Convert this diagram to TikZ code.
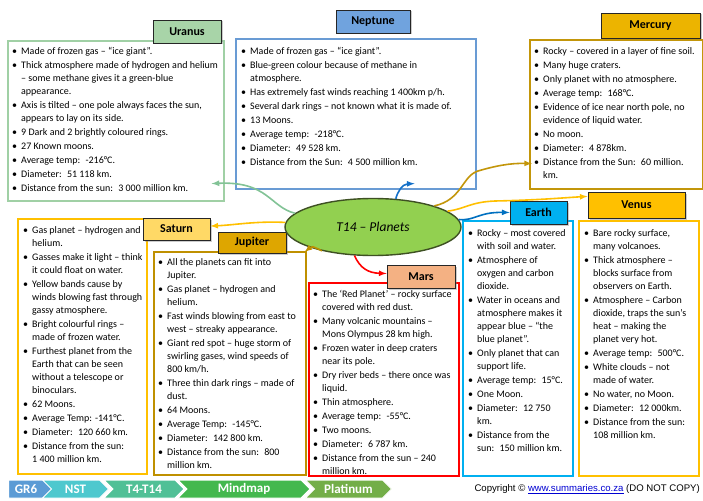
\documentclass[tikz,border=0pt]{standalone}
\usepackage{fontspec}
\setmainfont{Carlito}
\newfontfamily\copyfont{Liberation Sans}
\usetikzlibrary{shapes.geometric,shapes.symbols,shadows}

\definecolor{uranusline}{RGB}{160,208,165}
\definecolor{uranusfill}{RGB}{168,212,168}
\definecolor{uranuslink}{RGB}{130,195,150}
\definecolor{neptuneline}{RGB}{105,155,212}
\definecolor{neptunefill}{RGB}{112,163,222}
\definecolor{neptunelink}{RGB}{20,112,200}
\definecolor{mercuryline}{RGB}{195,150,10}
\definecolor{mercuryfill}{RGB}{236,180,0}
\definecolor{saturnline}{RGB}{255,192,0}
\definecolor{saturnfill}{RGB}{255,217,102}
\definecolor{jupiterline}{RGB}{191,144,0}
\definecolor{jupiterfill}{RGB}{222,166,0}
\definecolor{marsline}{RGB}{255,0,0}
\definecolor{marsfill}{RGB}{244,177,131}
\definecolor{earthline}{RGB}{0,176,240}
\definecolor{earthlink}{RGB}{0,112,192}
\definecolor{venusline}{RGB}{255,192,0}
\definecolor{hubgreen}{RGB}{146,208,80}
\definecolor{hubborder}{RGB}{62,80,35}
\definecolor{crumbblue}{RGB}{91,155,213}
\definecolor{crumbcyan}{RGB}{78,200,206}
\definecolor{crumbteal}{RGB}{80,192,150}
\definecolor{crumbgreen}{RGB}{68,184,78}
\definecolor{crumbolive}{RGB}{115,174,72}
\definecolor{urlblue}{RGB}{0,0,210}

\newcommand{\fact}{\unskip\makebox[9pt][l]{\textbullet}}
\newcommand{\factmore}{\unskip\hspace*{9pt}}

\begin{document}
\begin{tikzpicture}[x=1pt, y=-1pt,
  planetbox/.style={draw, line width=1.6pt, anchor=north west, inner sep=0pt, fill=white},
  facttext/.style={anchor=north west, inner sep=0pt, align=left, font=\fontsize{10}{13}\selectfont},
  planettitle/.style={draw=black!85, line width=0.9pt, inner sep=0pt, font=\fontsize{12}{12}\selectfont\bfseries,
    drop shadow={shadow xshift=1.5pt, shadow yshift=-1.5pt, opacity=0.4}},
  linkarrow/.style={line width=1.6pt, ->, >=latex},
  crumb/.style={signal, signal to=east, signal from=west, minimum height=18pt, inner sep=0pt,
    draw=white, line width=1pt, text=white, font=\fontsize{13}{13}\selectfont\bfseries}]

  % Page
  \useasboundingbox[fill=white] (0,0) rectangle (703,500);

  % Boxes
  \node[planetbox, draw=uranusline, minimum width=216, minimum height=160] (uranusbox) at (7,40) {};
  \node[planetbox, draw=neptuneline, minimum width=240, minimum height=150] (neptunebox) at (235,38) {};
  \node[planetbox, draw=mercuryline, minimum width=173, minimum height=149] (mercurybox) at (529,39) {};
  \node[planetbox, draw=saturnline, minimum width=129, minimum height=255] (saturnbox) at (17,218) {};
  \node[planetbox, draw=jupiterline, minimum width=152, minimum height=223] (jupiterbox) at (153,251) {};
  \node[planetbox, draw=marsline, minimum width=150, minimum height=193] (marsbox) at (308,282) {};
  \node[planetbox, draw=earthline, minimum width=110, minimum height=255] (earthbox) at (462,220) {};
  \node[planetbox, draw=venusline, minimum width=120, minimum height=255] (venusbox) at (578,220) {};

  % Facts
  \node[facttext] (uranusfacts) at (12,47) {
    \fact Made of frozen gas – “ice giant”.\\[1pt]
    \fact Thick atmosphere made of hydrogen and helium\\
    \factmore – some methane gives it a green-blue\\
    \factmore appearance.\\[1pt]
    \fact Axis is tilted – one pole always faces the sun,\\
    \factmore appears to lay on its side.\\[1pt]
    \fact 9 Dark and 2 brightly coloured rings.\\[1pt]
    \fact 27 Known moons.\\[1pt]
    \fact Average temp:~ -216°C.\\[1pt]
    \fact Diameter:~ 51 118 km.\\[1pt]
    \fact Distance from the sun:~ 3 000 million km.};
  \node[facttext] (neptunefacts) at (241,47.5) {
    \fact Made of frozen gas – “ice giant”.\\[1pt]
    \fact Blue-green colour because of methane in\\
    \factmore atmosphere.\\[1pt]
    \fact Has extremely fast winds reaching 1 400km p/h.\\[1pt]
    \fact Several dark rings – not known what it is made of.\\[1pt]
    \fact 13 Moons.\\[1pt]
    \fact Average temp:~ -218°C.\\[1pt]
    \fact Diameter:~ 49 528 km.\\[1pt]
    \fact Distance from the Sun:~ 4 500 million km.};
  \node[facttext] (mercuryfacts) at (534,47.5) {
    \fact Rocky – covered in a layer of fine soil.\\[1pt]
    \fact Many huge craters.\\[1pt]
    \fact Only planet with no atmosphere.\\[1pt]
    \fact Average temp:~ 168°C.\\[1pt]
    \fact Evidence of ice near north pole, no\\
    \factmore evidence of liquid water.\\[1pt]
    \fact No moon.\\[1pt]
    \fact Diameter:~ 4 878km.\\[1pt]
    \fact Distance from the Sun:~ 60 million.\\
    \factmore km.};
  \node[facttext] (saturnfacts) at (23,226) {
    \fact Gas planet – hydrogen and\\
    \factmore helium.\\[1pt]
    \fact Gasses make it light – think\\
    \factmore it could float on water.\\[1pt]
    \fact Yellow bands cause by\\
    \factmore winds blowing fast through\\
    \factmore gassy atmosphere.\\[1pt]
    \fact Bright colourful rings –\\
    \factmore made of frozen water.\\[1pt]
    \fact Furthest planet from the\\
    \factmore Earth that can be seen\\
    \factmore without a telescope or\\
    \factmore binoculars.\\[1pt]
    \fact 62 Moons.\\[1pt]
    \fact Average Temp: -141°C.\\[1pt]
    \fact Diameter:~ 120 660 km.\\[1pt]
    \fact Distance from the sun:\\
    \factmore 1 400 million km.};
  \node[facttext] (jupiterfacts) at (158,258) {
    \fact All the planets can fit into\\
    \factmore Jupiter.\\[1pt]
    \fact Gas planet – hydrogen and\\
    \factmore helium.\\[1pt]
    \fact Fast winds blowing from east to\\
    \factmore west – streaky appearance.\\[1pt]
    \fact Giant red spot – huge storm of\\
    \factmore swirling gases, wind speeds of\\
    \factmore 800 km/h.\\[1pt]
    \fact Three thin dark rings – made of\\
    \factmore dust.\\[1pt]
    \fact 64 Moons.\\[1pt]
    \fact Average Temp:~ -145°C.\\[1pt]
    \fact Diameter:~ 142 800 km.\\[1pt]
    \fact Distance from the sun:~ 800\\
    \factmore million km.};
  \node[facttext] (marsfacts) at (313,290) {
    \fact The ‘Red Planet’ – rocky surface\\
    \factmore covered with red dust.\\[1pt]
    \fact Many volcanic mountains –\\
    \factmore Mons Olympus 28 km high.\\[1pt]
    \fact Frozen water in deep craters\\
    \factmore near its pole.\\[1pt]
    \fact Dry river beds – there once was\\
    \factmore liquid.\\[1pt]
    \fact Thin atmosphere.\\[1pt]
    \fact Average temp:~ -55°C.\\[1pt]
    \fact Two moons.\\[1pt]
    \fact Diameter:~ 6 787 km.\\[1pt]
    \fact Distance from the sun – 240\\
    \factmore million km.};
  \node[facttext] (earthfacts) at (468,229.5) {
    \fact Rocky – most covered\\
    \factmore with soil and water.\\[1pt]
    \fact Atmosphere of\\
    \factmore oxygen and carbon\\
    \factmore dioxide.\\[1pt]
    \fact Water in oceans and\\
    \factmore atmosphere makes it\\
    \factmore appear blue – “the\\
    \factmore blue planet”.\\[1pt]
    \fact Only planet that can\\
    \factmore support life.\\[1pt]
    \fact Average temp:~ 15°C.\\[1pt]
    \fact One Moon.\\[1pt]
    \fact Diameter:~ 12 750\\
    \factmore km.\\[1pt]
    \fact Distance from the\\
    \factmore sun:~ 150 million km.};
  \node[facttext] (venusfacts) at (584,229.5) {
    \fact Bare rocky surface,\\
    \factmore many volcanoes.\\[1pt]
    \fact Thick atmosphere –\\
    \factmore blocks surface from\\
    \factmore observers on Earth.\\[1pt]
    \fact Atmosphere – Carbon\\
    \factmore dioxide, traps the sun’s\\
    \factmore heat – making the\\
    \factmore planet very hot.\\[1pt]
    \fact Average temp:~ 500°C.\\[1pt]
    \fact White clouds – not\\
    \factmore made of water.\\[1pt]
    \fact No water, no Moon.\\[1pt]
    \fact Diameter:~ 12 000km.\\[1pt]
    \fact Distance from the sun:\\
    \factmore 108 million km.};

  % Titles
  \node[planettitle, fill=uranusfill, minimum width=68, minimum height=23] (uranustitle) at (187,31.5) {Uranus};
  \node[planettitle, fill=neptunefill, minimum width=74, minimum height=23] (neptunetitle) at (373,21.5) {Neptune};
  \node[planettitle, fill=mercuryfill, minimum width=99, minimum height=25] (mercurytitle) at (650.5,25.5) {Mercury};
  \node[planettitle, fill=saturnfill, minimum width=67, minimum height=22] (saturntitle) at (176.5,229) {Saturn};
  \node[planettitle, fill=jupiterfill, minimum width=68, minimum height=21] (jupitertitle) at (252,242.5) {Jupiter};
  \node[planettitle, fill=marsfill, minimum width=68, minimum height=23] (marstitle) at (421,276.5) {Mars};
  \node[planettitle, fill=earthline, minimum width=57, minimum height=23] (earthtitle) at (538.5,212.5) {Earth};
  \node[planettitle, fill=venusline, minimum width=97, minimum height=26] (venustitle) at (636.5,205) {Venus};

  % Centre
  \node[ellipse, draw=hubborder, line width=1.4pt, fill=hubgreen, minimum width=176, minimum height=57,
    inner sep=0pt, font=\fontsize{13.5}{14}\selectfont\itshape] (planets) at (373,227) {T14 – Planets};

  % Arrow ends
  \coordinate (uranusend) at ([shift={(-13,-18)}]uranusbox.south east);
  \coordinate (neptuneend) at ([shift={(-62,-6)}]neptunebox.south east);
  \coordinate (mercuryend) at ([shift={(3,-26)}]mercurybox.south west);
  \coordinate (jupiterend) at ([shift={(-2,1)}]jupiterbox.north east);

  % Links
  \draw[linkarrow, uranuslink] (planets.170) .. controls (270,207) and (268,181) .. (uranusend);
  \draw[linkarrow, neptunelink] (planets.51) .. controls (397,193) and (402,184) .. (neptuneend);
  \draw[linkarrow, mercuryline] (planets.19) .. controls (462,200) and (462,176) .. (478,171)
    .. controls (495,166) and (510,163) .. (mercuryend);
  \draw[linkarrow, venusline] (planets.12) .. controls (465,209) and (470,202) .. (495,201)
    .. controls (540,200) and (560,198) .. (venustitle.170);
  \draw[linkarrow, earthlink] (planets.5) .. controls (475,221) and (478,212) .. (earthtitle.west);
  \draw[linkarrow, marsline] (planets.237) .. controls (360,268) and (368,273) .. (marstitle.175);
  \draw[linkarrow, jupiterline] (planets.205) .. controls (312,246) .. (jupiterend);
  \draw[linkarrow, saturnline] (planets.177) .. controls (255,221) and (235,225) .. (saturntitle.5);

  % Footer
  \node[crumb, signal from=nowhere, fill=crumbblue, minimum width=44] (gr) at (26,489) {GR6};
  \node[crumb, fill=crumbcyan, minimum width=66] (nst) at (75.5,489) {NST};
  \node[crumb, fill=crumbteal, minimum width=80] (term) at (144,489) {T4-T14};
  \node[crumb, fill=crumbgreen, minimum width=132] (mindmap) at (244,489) {Mindmap};
  \node[crumb, fill=crumbolive, minimum width=86] (platinum) at (348.5,489) {Platinum};
  \node[anchor=east, inner sep=0pt, font=\copyfont\fontsize{9.6}{10}\selectfont] (copyright) at (700,489)
    {Copyright © \textcolor{urlblue}{\underline{www.summaries.co.za}} (DO NOT COPY)};
\end{tikzpicture}
\end{document}
